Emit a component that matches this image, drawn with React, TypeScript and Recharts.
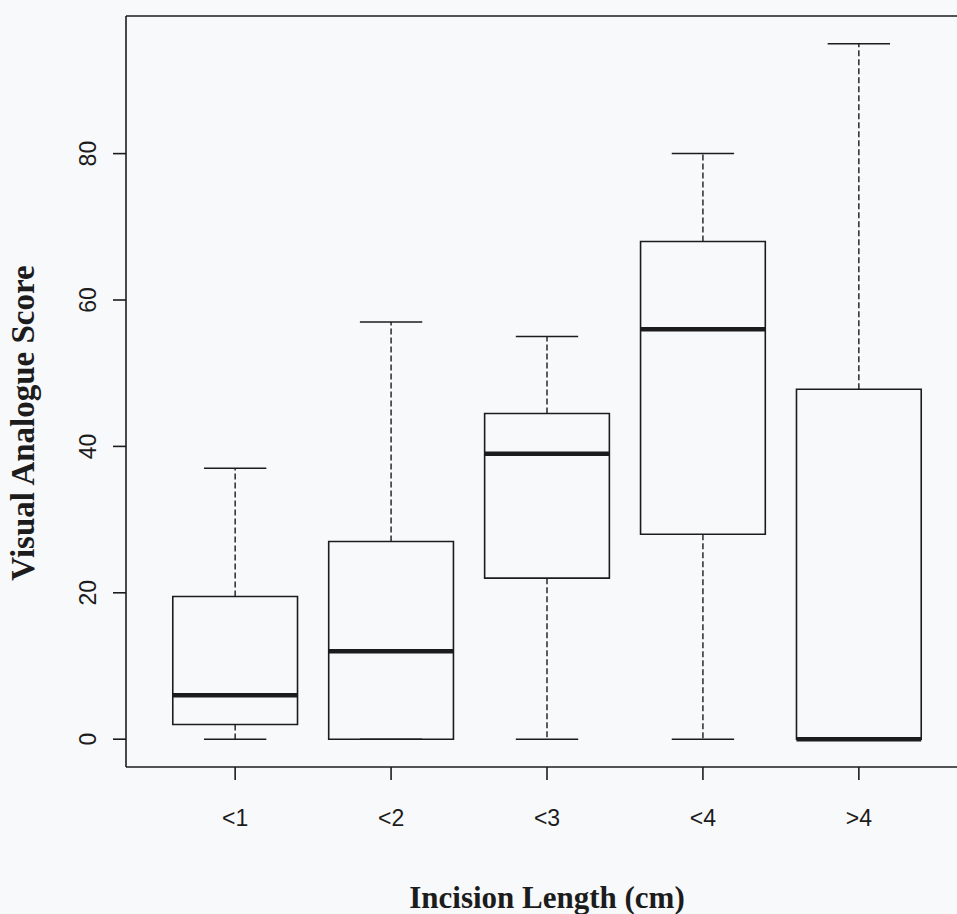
import React from 'react';
import {
  ComposedChart,
  Scatter,
  XAxis,
  YAxis,
  ReferenceArea,
  ReferenceLine,
} from 'recharts';

// five-number summaries per incision length group
const categories = ['<1', '<2', '<3', '<4', '>4'];
const lowerWhisker = [0, 0, 0, 0, 0];
const lowerQuartile = [2, 0, 22, 28, 0];
const medians = [6, 12, 39, 56, 0];
const upperQuartile = [19.5, 27, 44.5, 68, 47.8];
const upperWhisker = [37, 57, 55, 80, 95];
const yTicks = [0, 20, 40, 60, 80];

const rows = categories.map((name, i) => ({
  pos: i + 1,
  name,
  min: lowerWhisker[i],
  q1: lowerQuartile[i],
  median: medians[i],
  q3: upperQuartile[i],
  max: upperWhisker[i],
}));

const X_DOMAIN: [number, number] = [0.3, 5.7];
const Y_DOMAIN: [number, number] = [-3.8, 98.8];
const BOX_HALF = 0.4;
const STAPLE_HALF = 0.2;
const INK = '#1c1c1c';
const BG = '#f8f9fb';
const TICK_FONT = "'Liberation Sans', Arial, sans-serif";
const TITLE_FONT = "'Liberation Serif', 'Times New Roman', serif";

const YTick = (props: any) => {
  const { y, payload } = props;
  const bx = 96;
  return (
    <text
      x={bx}
      y={y}
      transform={`rotate(-90, ${bx}, ${y})`}
      textAnchor="middle"
      fontFamily={TICK_FONT}
      fontSize={23}
      fill={INK}
    >
      {payload.value}
    </text>
  );
};

const XTick = (props: any) => {
  const { x, payload } = props;
  return (
    <text x={x} y={826} textAnchor="middle" fontFamily={TICK_FONT} fontSize={23} fill={INK}>
      {categories[payload.value - 1]}
    </text>
  );
};

function boxMarks(r: (typeof rows)[number]) {
  const l = r.pos - BOX_HALF;
  const h = r.pos + BOX_HALF;
  return [
    // whiskers
    <ReferenceLine
      key={`wu${r.pos}`}
      segment={[{ x: r.pos, y: r.q3 }, { x: r.pos, y: r.max }]}
      stroke={INK}
      strokeWidth={1.4}
      strokeDasharray="6 3"
    />,
    <ReferenceLine
      key={`wl${r.pos}`}
      segment={[{ x: r.pos, y: r.q1 }, { x: r.pos, y: r.min }]}
      stroke={INK}
      strokeWidth={1.4}
      strokeDasharray="6 3"
    />,
    // staples
    <ReferenceLine
      key={`su${r.pos}`}
      segment={[{ x: r.pos - STAPLE_HALF, y: r.max }, { x: r.pos + STAPLE_HALF, y: r.max }]}
      stroke={INK}
      strokeWidth={1.5}
    />,
    <ReferenceLine
      key={`sl${r.pos}`}
      segment={[{ x: r.pos - STAPLE_HALF, y: r.min }, { x: r.pos + STAPLE_HALF, y: r.min }]}
      stroke={INK}
      strokeWidth={1.5}
    />,
    // box
    <ReferenceArea
      key={`b${r.pos}`}
      x1={l}
      x2={h}
      y1={r.q1}
      y2={r.q3}
      fill={BG}
      fillOpacity={1}
      stroke={INK}
      strokeWidth={1.6}
    />,
    // median
    <ReferenceLine
      key={`m${r.pos}`}
      segment={[{ x: l, y: r.median }, { x: h, y: r.median }]}
      stroke={INK}
      strokeWidth={4.5}
    />,
  ];
}

export default function App() {
  return (
    <div
      style={{
        position: 'fixed',
        left: 0,
        top: 0,
        width: 957,
        height: 914,
        overflow: 'hidden',
        background: BG,
      }}
    >
      <ComposedChart
        width={980}
        height={914}
        data={rows}
        margin={{ top: 16, right: 12, left: 0, bottom: 0 }}
      >
        <XAxis
          dataKey="pos"
          type="number"
          domain={X_DOMAIN}
          ticks={[1, 2, 3, 4, 5]}
          allowDataOverflow
          height={147}
          tickSize={13}
          tick={<XTick />}
          axisLine={{ stroke: INK, strokeWidth: 1.6 }}
          tickLine={{ stroke: INK, strokeWidth: 1.6 }}
        />
        <YAxis
          type="number"
          domain={Y_DOMAIN}
          ticks={yTicks}
          allowDataOverflow
          width={126}
          tickSize={13}
          tick={<YTick />}
          axisLine={{ stroke: INK, strokeWidth: 1.6 }}
          tickLine={{ stroke: INK, strokeWidth: 1.6 }}
        />
        {/* top and right edges of the plot frame */}
        <ReferenceLine y={Y_DOMAIN[1]} stroke={INK} strokeWidth={1.6} />
        <ReferenceLine x={X_DOMAIN[1]} stroke={INK} strokeWidth={1.6} />
        {rows.flatMap(boxMarks)}
        <Scatter dataKey="median" shape={() => null} isAnimationActive={false} />
      </ComposedChart>
      <svg
        width={957}
        height={914}
        style={{ position: 'absolute', left: 0, top: 0, pointerEvents: 'none' }}
      >
        <text
          x={547}
          y={908}
          textAnchor="middle"
          fontFamily={TITLE_FONT}
          fontWeight="bold"
          fontSize={31}
          fill={INK}
        >
          Incision Length (cm)
        </text>
        <text
          x={34}
          y={423}
          transform="rotate(-90, 34, 423)"
          textAnchor="middle"
          fontFamily={TITLE_FONT}
          fontWeight="bold"
          fontSize={33}
          fill={INK}
        >
          Visual Analogue Score
        </text>
      </svg>
    </div>
  );
}
